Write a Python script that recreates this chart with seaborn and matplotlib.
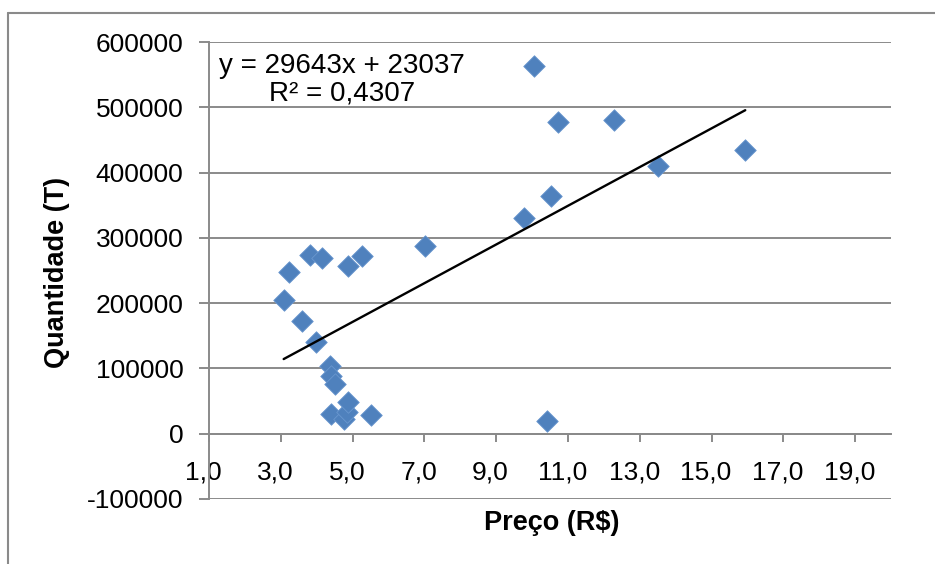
import numpy as np
import pandas as pd
import matplotlib
matplotlib.use("Agg")
import matplotlib.pyplot as plt
from matplotlib.lines import Line2D
from matplotlib.ticker import FuncFormatter
from matplotlib.transforms import ScaledTranslation
import seaborn as sns

# Observations: price (R$) and quantity (T)
preco = [3.08, 3.23, 3.60, 3.82, 3.99, 4.16, 4.36, 4.41, 4.50, 4.41,
         4.75, 4.85, 4.87, 4.87, 5.26, 5.52, 7.03, 9.78, 10.06, 10.42,
         10.54, 10.73, 12.28, 13.51, 15.94]
quantidade = [205000, 248000, 172000, 273000, 141000, 269000, 104000, 89000, 76000, 30000,
              22000, 33000, 48000, 257000, 272500, 29000, 288000, 331000, 563500, 20000,
              364500, 477800, 481000, 410500, 434500]

# Linear trend line coefficients and fit quality
slope = 29643
intercept = 23037
r2_text = "0,4307"

x_ticks = [1, 3, 5, 7, 9, 11, 13, 15, 17, 19]
y_ticks = [-100000, 0, 100000, 200000, 300000, 400000, 500000, 600000]

sns.set_theme(style="white")
plt.rcParams["font.family"] = ["Liberation Sans", "DejaVu Sans"]

grid_gray = "#8a8a8a"

fig = plt.figure(figsize=(9.35, 5.64), dpi=100)
ax = fig.add_axes([209 / 935, 1 - 499 / 564, 682 / 935, 457 / 564])

df = pd.DataFrame({"preco": preco, "quantidade": quantidade})
sns.scatterplot(data=df, x="preco", y="quantidade", marker="D", s=120,
                color="#4F81BD", edgecolor="#6A97CF", linewidth=0.6,
                ax=ax, zorder=3)

x_fit = np.array([min(preco), max(preco)])
sns.lineplot(x=x_fit, y=slope * x_fit + intercept, color="black",
             linewidth=1.7, ax=ax, zorder=4)

ax.set_xlim(1, 20)
ax.set_ylim(-100000, 600000)
ax.set_xticks(x_ticks)
ax.set_yticks(y_ticks)
ax.xaxis.set_major_formatter(FuncFormatter(lambda v, p: f"{v:.1f}".replace(".", ",")))
ax.yaxis.set_major_formatter(FuncFormatter(lambda v, p: f"{int(v)}"))

ax.yaxis.grid(True, color=grid_gray, linewidth=1.4)
ax.xaxis.grid(False)
for side in ("top", "right"):
    ax.spines[side].set_visible(False)
ax.spines["left"].set_color(grid_gray)
ax.spines["left"].set_linewidth(1.4)
ax.spines["bottom"].set_position(("data", 0))
ax.spines["bottom"].set_color(grid_gray)
ax.spines["bottom"].set_linewidth(1.4)

ax.tick_params(axis="y", direction="out", length=7.5, width=1.4, color=grid_gray,
               pad=11, labelsize=19, labelcolor="black", left=True)
ax.tick_params(axis="x", direction="out", length=6, width=1.4, color=grid_gray,
               pad=13.5, labelsize=19, labelcolor="black", bottom=True)

# x tick labels sit slightly left of their tick marks
shift = ScaledTranslation(-4 / 72, 0, fig.dpi_scale_trans)
for lbl in ax.get_xticklabels():
    lbl.set_transform(lbl.get_transform() + shift)

ax.set_xlabel("Preço (R$)", fontsize=19.5, fontweight="bold", color="black")
ax.set_ylabel("Quantidade (T)", fontsize=19.5, fontweight="bold", color="black")
ax.xaxis.label.set_va("center")
ax.yaxis.label.set_va("center")
ax.xaxis.set_label_coords(0.502, -0.0525)
ax.yaxis.set_label_coords(-0.223, 0.495)

ax.text(0.195, 0.917, f"y = {slope}x + {intercept}\nR² = {r2_text}",
        transform=ax.transAxes, ha="center", va="center", multialignment="center",
        fontsize=20, linespacing=1.05, color="black", zorder=5)

# Chart frame
fig.add_artist(Line2D([8 / 935, 8 / 935], [1 - 13 / 564, 0], transform=fig.transFigure,
                      color=grid_gray, linewidth=1.5))
fig.add_artist(Line2D([8 / 935, 1], [1 - 13 / 564, 1 - 13 / 564], transform=fig.transFigure,
                      color=grid_gray, linewidth=1.5))

fig.savefig("out.png", dpi=100, facecolor="white")
